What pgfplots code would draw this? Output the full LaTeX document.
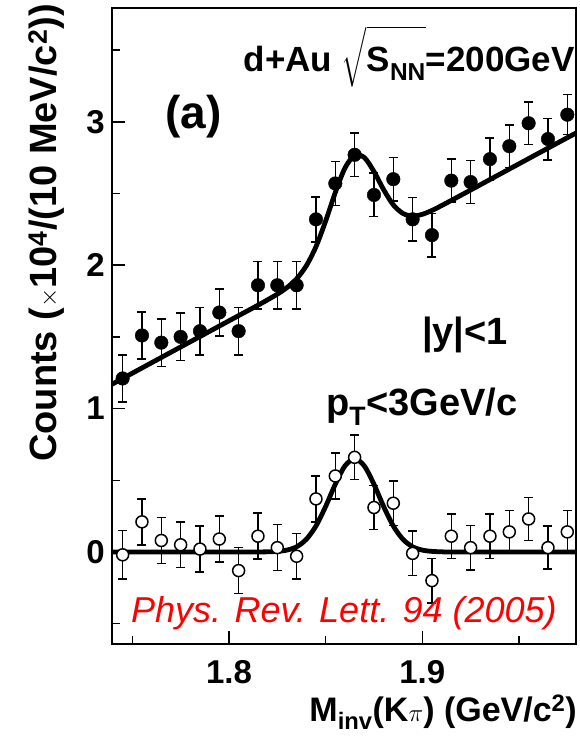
\documentclass[border=0pt]{standalone}
\usepackage{fontspec}
\setmainfont{Liberation Sans}
\usepackage{amsmath}
\usepackage{pgfplots}
\pgfplotsset{compat=1.18}
\begin{document}
\begin{tikzpicture}
\useasboundingbox (0,0) rectangle (580pt,737pt);
\begin{axis}[
  at={(112pt,93pt)}, anchor=south west,
  width=464pt, height=636pt, scale only axis,
  xmin=1.7395, xmax=1.9795, ymin=-0.642, ymax=3.794,
  xtick={1.8,1.9}, minor xtick={1.75,1.85,1.95},
  ytick={0,1,2,3}, minor ytick={-0.5,0.5,1.5,2.5,3.5},
  xtick pos=bottom, ytick pos=left, tick align=inside,
  major tick length=13pt, minor tick length=8pt,
  every tick/.append style={line width=1.5pt, black},
  axis line style={line width=2.2pt},
  /pgf/number format/assume math mode=true,
  xticklabel style={font=\fontsize{33}{33}\selectfont\bfseries, inner sep=0pt, yshift=-16pt, anchor=north},
  yticklabel style={font=\fontsize{33}{33}\selectfont\bfseries, inner sep=0pt, xshift=-7pt, anchor=east},
  clip=false,
]
% fitted curve: background + peak (upper)
\addplot[black, line width=4.8pt, smooth] coordinates {
(1.7395,1.170) (1.745,1.210) (1.76,1.320) (1.78,1.466) (1.80,1.612) (1.815,1.721)
(1.82,1.759) (1.825,1.798) (1.83,1.844) (1.835,1.905) (1.84,1.996) (1.845,2.129)
(1.85,2.308) (1.855,2.507) (1.86,2.678) (1.865,2.766) (1.87,2.751) (1.875,2.653)
(1.88,2.527) (1.885,2.421) (1.89,2.361) (1.895,2.343) (1.90,2.355) (1.905,2.382)
(1.91,2.416) (1.92,2.488) (1.94,2.634) (1.96,2.780) (1.9795,2.922)
};
% fitted curve: peak only (lower)
\addplot[black, line width=4.8pt, smooth] coordinates {
(1.7395,0) (1.78,0) (1.81,0) (1.815,0) (1.82,0.001) (1.825,0.004) (1.83,0.013)
(1.835,0.036) (1.84,0.088) (1.845,0.181) (1.85,0.317) (1.855,0.472) (1.86,0.600)
(1.865,0.650) (1.87,0.600) (1.875,0.472) (1.88,0.317) (1.885,0.181) (1.89,0.088)
(1.895,0.036) (1.90,0.013) (1.905,0.004) (1.91,0.001) (1.915,0) (1.95,0) (1.9795,0)
};
% filled points
\addplot[only marks, mark=*, mark size=6.8pt, black,
  error bars/.cd, y dir=both, y explicit,
  error bar style={line width=1.5pt, black},
  error mark options={rotate=90, mark size=4.5pt, line width=1.5pt, black}]
coordinates {
(1.745,1.21) +- (0,0.165)
(1.755,1.51) +- (0,0.165)
(1.765,1.46) +- (0,0.165)
(1.775,1.50) +- (0,0.165)
(1.785,1.54) +- (0,0.165)
(1.795,1.67) +- (0,0.165)
(1.805,1.54) +- (0,0.165)
(1.815,1.86) +- (0,0.165)
(1.825,1.86) +- (0,0.165)
(1.835,1.86) +- (0,0.165)
(1.845,2.32) +- (0,0.157)
(1.855,2.57) +- (0,0.155)
(1.865,2.77) +- (0,0.152)
(1.875,2.49) +- (0,0.152)
(1.885,2.60) +- (0,0.152)
(1.895,2.32) +- (0,0.152)
(1.905,2.21) +- (0,0.152)
(1.915,2.59) +- (0,0.150)
(1.925,2.58) +- (0,0.150)
(1.935,2.74) +- (0,0.148)
(1.945,2.83) +- (0,0.148)
(1.955,2.99) +- (0,0.148)
(1.965,2.88) +- (0,0.145)
(1.975,3.05) +- (0,0.140)
};
% open points
\addplot[only marks, mark=*, mark size=6pt, mark options={fill=white, draw=black, line width=1.5pt},
  error bars/.cd, y dir=both, y explicit,
  error bar style={line width=1.5pt, black},
  error mark options={rotate=90, mark size=4.5pt, line width=1.5pt, black}]
coordinates {
(1.745,-0.02) +- (0,0.17)
(1.755,0.21) +- (0,0.16)
(1.765,0.08) +- (0,0.16)
(1.775,0.05) +- (0,0.16)
(1.785,0.02) +- (0,0.16)
(1.795,0.09) +- (0,0.16)
(1.805,-0.13) +- (0,0.16)
(1.815,0.11) +- (0,0.16)
(1.825,0.03) +- (0,0.16)
(1.835,-0.03) +- (0,0.16)
(1.845,0.37) +- (0,0.16)
(1.855,0.53) +- (0,0.16)
(1.865,0.66) +- (0,0.155)
(1.875,0.31) +- (0,0.155)
(1.885,0.34) +- (0,0.155)
(1.895,-0.01) +- (0,0.155)
(1.905,-0.20) +- (0,0.155)
(1.915,0.11) +- (0,0.155)
(1.925,0.03) +- (0,0.155)
(1.935,0.11) +- (0,0.155)
(1.945,0.14) +- (0,0.15)
(1.955,0.23) +- (0,0.15)
(1.965,0.03) +- (0,0.15)
(1.975,0.14) +- (0,0.15)
};
\end{axis}
% annotations
\node[anchor=base east, font=\fontsize{35}{35}\selectfont\bfseries, inner sep=0pt] at (575pt,665pt)
  {d+Au $\sqrt{\rule{0pt}{36pt}\text{S}_{\text{NN}}}$=200GeV};
\node[anchor=base west, font=\fontsize{46}{46}\selectfont\bfseries, inner sep=0pt] at (165pt,608pt) {(a)};
\node[anchor=base west, font=\fontsize{38}{38}\selectfont\bfseries, inner sep=0pt] at (422pt,392pt) {|y|<1};
\node[anchor=base west, font=\fontsize{38}{38}\selectfont\bfseries, inner sep=0pt] at (326pt,321pt) {p$_{\text{T}}$<3GeV/c};
\node[anchor=base west, font=\fontsize{36}{36}\selectfont\itshape, text=red, inner sep=0pt] at (131pt,114pt) {Phys. Rev. Lett. 94 (2005)};
\node[anchor=base east, font=\fontsize{34}{34}\selectfont\bfseries, inner sep=0pt] at (577pt,16pt)
  {M$_{\text{inv}}$(K$\pi$) (GeV/c$^{\text{2}}$)};
\node[rotate=90, anchor=base west, font=\fontsize{38}{38}\selectfont\bfseries, inner sep=0pt] at (56pt,275pt)
  {Counts ($\times$10$^{\text{4}}$/(10 MeV/c$^{\text{2}}$))};
\end{tikzpicture}
\end{document}
